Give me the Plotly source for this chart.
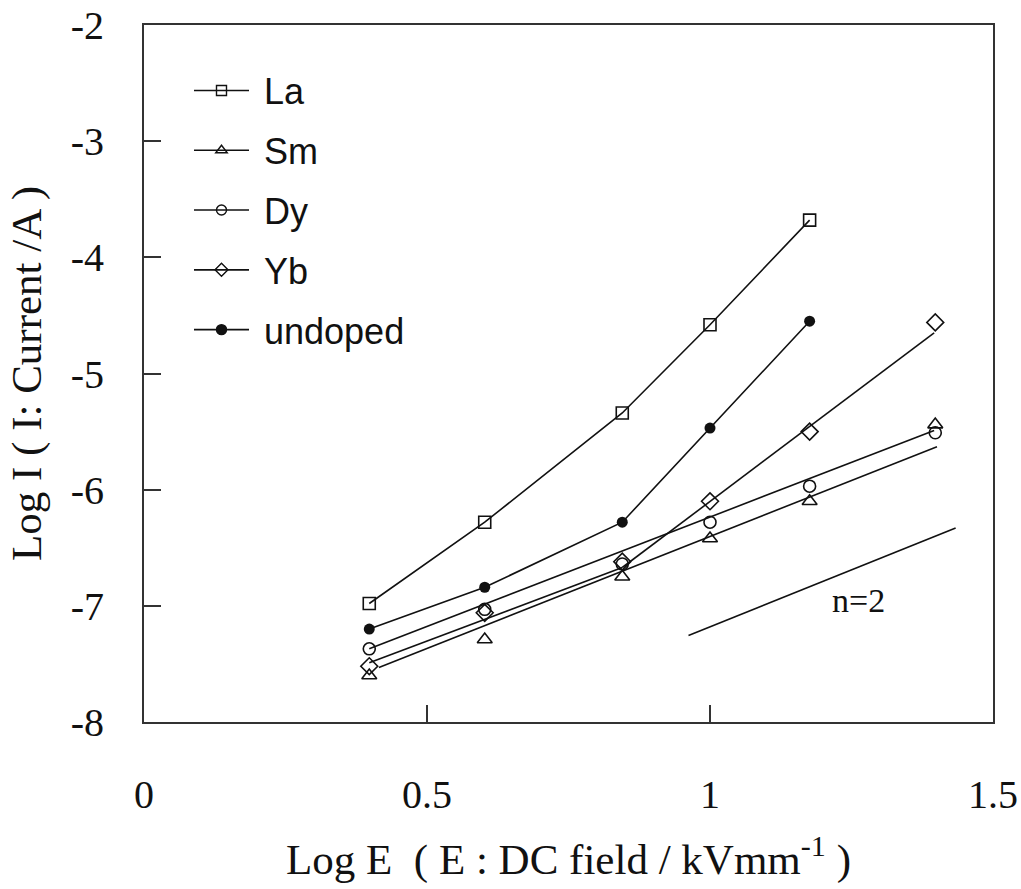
import plotly.graph_objects as go

# ---- data ----
log_e = [0.398, 0.602, 0.845, 1.0, 1.176, 1.398]

la = [-6.98, -6.28, -5.34, -4.58, -3.68]
undoped = [-7.20, -6.84, -6.28, -5.47, -4.55]
sm = [-7.60, -7.29, -6.75, -6.42, -6.10, -5.44]
dy = [-7.37, -7.03, -6.64, -6.28, -5.97, -5.51]
yb = [-7.52, -7.06, -6.62, -6.10, -5.50, -4.56]

# fitted straight lines (end points)
sm_fit_x = [0.415, 1.401]
sm_fit_y = [-7.53, -5.63]
dy_fit_x = [0.398, 1.396]
dy_fit_y = [-7.37, -5.49]
yb_low_x = [0.398, 0.845]
yb_low_y = [-7.49, -6.67]
yb_high_x = [0.845, 1.396]
yb_high_y = [-6.67, -4.65]
n2_x = [0.962, 1.434]
n2_y = [-7.255, -6.33]

x_ticks = [0, 0.5, 1, 1.5]
x_ticktext = ["0", "0.5", "1", "1.5"]
y_ticks = [-8, -7, -6, -5, -4, -3, -2]
y_ticktext = ["-8", "-7", "-6", "-5", "-4", "-3", "-2"]

series_names = ["La", "Sm", "Dy", "Yb", "undoped"]
series_symbols = ["square-open", "triangle-up-open", "circle-open", "diamond-open", "circle"]

INK = "#111111"
SERIF = "Liberation Serif, Times New Roman, serif"
SANS = "Liberation Sans, Arial, sans-serif"

fig = go.Figure()

line_style = dict(color=INK, width=1.6)

# fitted / connecting lines (below markers)
for fx, fy in [(sm_fit_x, sm_fit_y), (dy_fit_x, dy_fit_y), (yb_low_x, yb_low_y),
               (yb_high_x, yb_high_y), (n2_x, n2_y)]:
    fig.add_trace(go.Scatter(x=fx, y=fy, mode="lines", line=line_style,
                             showlegend=False, hoverinfo="skip"))

fig.add_trace(go.Scatter(x=log_e[:len(la)], y=la, mode="lines+markers", line=line_style,
                         marker=dict(symbol="square-open", size=12, color=INK, line=dict(width=1.6, color=INK)),
                         showlegend=False))
fig.add_trace(go.Scatter(x=log_e[:len(undoped)], y=undoped, mode="lines+markers", line=line_style,
                         marker=dict(symbol="circle", size=11, color=INK),
                         showlegend=False))
fig.add_trace(go.Scatter(x=log_e, y=sm, mode="markers",
                         marker=dict(symbol="triangle-up-open", size=13, color=INK, line=dict(width=1.6, color=INK)),
                         showlegend=False))
fig.add_trace(go.Scatter(x=log_e, y=dy, mode="markers",
                         marker=dict(symbol="circle-open", size=12, color=INK, line=dict(width=1.6, color=INK)),
                         showlegend=False))
fig.add_trace(go.Scatter(x=log_e, y=yb, mode="markers",
                         marker=dict(symbol="diamond-open", size=13, color=INK, line=dict(width=1.6, color=INK)),
                         showlegend=False))

# legend-only entries
for name, sym in zip(series_names, series_symbols):
    fig.add_trace(go.Scatter(x=[None], y=[None], mode="lines+markers", name="\u00a0" + name,
                             legendgroup=name,
                             line=dict(color=INK, width=1.6),
                             marker=dict(symbol=sym, size=10, color=INK, line=dict(width=1.4, color=INK))))

fig.add_annotation(x=1.263, y=-6.95, text="n=2", showarrow=False,
                   font=dict(family=SERIF, size=34, color=INK))

axis_common = dict(showline=True, mirror=True, linecolor="#333333", linewidth=2,
                   ticks="inside", ticklen=17, tickwidth=2, tickcolor="#333333",
                   showgrid=False, zeroline=False, automargin=False,
                   tickfont=dict(family=SERIF, size=40, color=INK))

fig.update_layout(
    width=1021, height=889,
    margin=dict(l=144, r=28, t=25, b=167),
    paper_bgcolor="white", plot_bgcolor="white",
    xaxis=dict(range=[0, 1.5], tickvals=x_ticks, ticktext=x_ticktext,
               ticklabelstandoff=36,
               title=dict(text="Log E  ( E : DC field / kVmm<sup>-1</sup> )",
                          font=dict(family=SERIF, size=43, color=INK), standoff=28),
               **axis_common),
    yaxis=dict(range=[-8, -2], tickvals=y_ticks, ticktext=y_ticktext,
               ticklabelstandoff=30,
               title=dict(text="Log I ( I: Current /A )",
                          font=dict(family=SERIF, size=43, color=INK), standoff=16),
               **axis_common),
    legend=dict(x=0.053, y=0.949, xanchor="left", yanchor="top",
                font=dict(family=SANS, size=36, color=INK),
                bgcolor="rgba(0,0,0,0)", tracegroupgap=10, itemwidth=55,
                traceorder="grouped"),
)

fig.write_html("out.html")
